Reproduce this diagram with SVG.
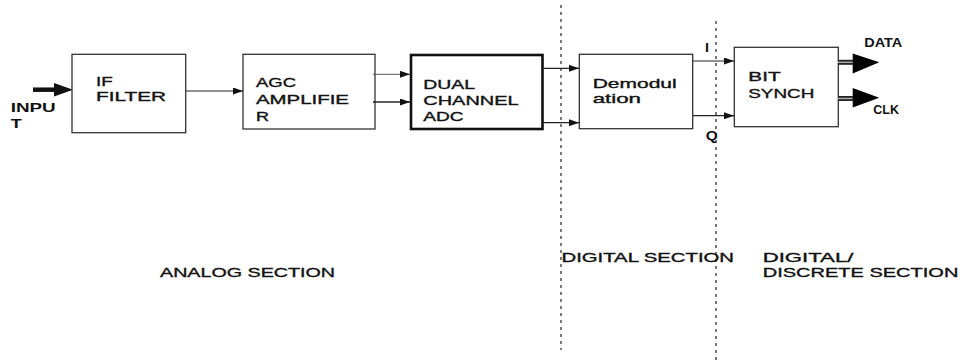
<svg xmlns="http://www.w3.org/2000/svg" width="962" height="362" viewBox="0 0 962 362">
<style>
text{font-family:"Liberation Sans",Arial,sans-serif;fill:#111;font-size:13px;stroke:#111;stroke-width:0.35}
.b{font-weight:bold;stroke-width:0}
.box{fill:#fff;stroke:#333;stroke-width:1.3}
.thick{fill:#fff;stroke:#111;stroke-width:2.6}
.ln{stroke:#222;stroke-width:1.2;fill:none}
.dash{stroke:#222;stroke-width:1.2;stroke-dasharray:3 4;fill:none}
</style>
<defs>
<marker id="arr" viewBox="0 0 10 7" refX="10" refY="3.5" markerWidth="10" markerHeight="7" markerUnits="userSpaceOnUse" orient="auto">
<path d="M0,0 L10,3.5 L0,7 z" fill="#111"/>
</marker>
</defs>

<g id="sections">
<line class="dash" x1="561" y1="5" x2="561" y2="350"/>
<line class="dash" x1="716" y1="21" x2="716" y2="362"/>
</g>

<g id="input">
<line x1="33" y1="89.7" x2="56" y2="89.7" stroke="#111" stroke-width="4.5"/>
<polygon points="54,83 73,89.7 54,96.5" fill="#111"/>
<text class="b" x="10.7" y="112" font-size="14" textLength="45" lengthAdjust="spacingAndGlyphs">INPU</text>
<text class="b" x="10.7" y="127.7" font-size="14" textLength="11" lengthAdjust="spacingAndGlyphs">T</text>
</g>

<g id="if-filter">
<rect class="box" x="72" y="54.3" width="113.7" height="78.4"/>
<text x="96" y="86" font-size="14" textLength="16.7" lengthAdjust="spacingAndGlyphs">IF</text>
<text x="96" y="101" font-size="14" textLength="70" lengthAdjust="spacingAndGlyphs">FILTER</text>
</g>

<g id="agc">
<rect class="box" x="243" y="54.3" width="132" height="74.7"/>
<text x="256" y="87.3" textLength="40" lengthAdjust="spacingAndGlyphs">AGC</text>
<text x="256" y="104.3" textLength="93" lengthAdjust="spacingAndGlyphs">AMPLIFIE</text>
<text x="256" y="121" textLength="13" lengthAdjust="spacingAndGlyphs">R</text>
</g>

<g id="adc">
<rect class="thick" x="411" y="55" width="131.5" height="74"/>
<text x="423.3" y="88.7" textLength="51.7" lengthAdjust="spacingAndGlyphs">DUAL</text>
<text x="423.3" y="105" textLength="95.3" lengthAdjust="spacingAndGlyphs">CHANNEL</text>
<text x="423.3" y="121" textLength="40.3" lengthAdjust="spacingAndGlyphs">ADC</text>
</g>

<g id="demod">
<rect class="box" x="579.3" y="54.3" width="113.4" height="74.4"/>
<text x="592.7" y="88" textLength="84" lengthAdjust="spacingAndGlyphs">Demodul</text>
<text x="592.7" y="102.7" textLength="48.3" lengthAdjust="spacingAndGlyphs">ation</text>
</g>

<g id="bitsynch">
<rect class="box" x="734.3" y="47.3" width="104" height="79.4"/>
<text x="748.3" y="81" textLength="32.3" lengthAdjust="spacingAndGlyphs">BIT</text>
<text x="748.3" y="97.7" textLength="66" lengthAdjust="spacingAndGlyphs">SYNCH</text>
</g>

<g id="connectors">
<line class="ln" x1="186" y1="91" x2="243" y2="91" marker-end="url(#arr)"/>
<line x1="373" y1="74.3" x2="410" y2="74.3" stroke="#555" stroke-width="1" marker-end="url(#arr)"/>
<line x1="373" y1="102" x2="410" y2="102" stroke="#222" stroke-width="1.5" marker-end="url(#arr)"/>
<line class="ln" x1="543" y1="68.3" x2="579" y2="68.3" marker-end="url(#arr)"/>
<line class="ln" x1="543" y1="122.7" x2="579" y2="122.7" marker-end="url(#arr)"/>
<line class="ln" x1="693" y1="61" x2="734" y2="61" marker-end="url(#arr)"/>
<line class="ln" x1="693" y1="115.7" x2="734" y2="115.7" marker-end="url(#arr)"/>
<line x1="838" y1="62.3" x2="854" y2="62.3" stroke="#222" stroke-width="5"/>
<line x1="838" y1="62.3" x2="854" y2="62.3" stroke="#aaa" stroke-width="1.5"/>
<polygon points="852.7,53.5 879.3,62.3 852.7,73.5" fill="#000"/>
<line x1="838" y1="98.5" x2="854" y2="98.5" stroke="#222" stroke-width="5"/>
<line x1="838" y1="98.5" x2="854" y2="98.5" stroke="#aaa" stroke-width="1.5"/>
<polygon points="852.7,88 879.3,97.7 852.7,107.5" fill="#000"/>
</g>

<g id="labels">
<text class="b" x="705" y="51.7" textLength="4" lengthAdjust="spacingAndGlyphs">I</text>
<text class="b" x="705.7" y="140" textLength="12" lengthAdjust="spacingAndGlyphs">Q</text>
<text class="b" x="864.3" y="46.7" font-size="8" textLength="38" lengthAdjust="spacingAndGlyphs">DATA</text>
<text class="b" x="873.3" y="114" font-size="8" textLength="25.7" lengthAdjust="spacingAndGlyphs">CLK</text>
<text x="160" y="276.7" font-size="14" textLength="175" lengthAdjust="spacingAndGlyphs">ANALOG SECTION</text>
<text x="561.5" y="261.7" font-size="12" textLength="172.5" lengthAdjust="spacingAndGlyphs">DIGITAL SECTION</text>
<text x="762.7" y="261.7" font-size="12" textLength="90.7" lengthAdjust="spacingAndGlyphs">DIGITAL/</text>
<text x="762.7" y="276.7" font-size="12" textLength="195.7" lengthAdjust="spacingAndGlyphs">DISCRETE SECTION</text>
</g>
</svg>
